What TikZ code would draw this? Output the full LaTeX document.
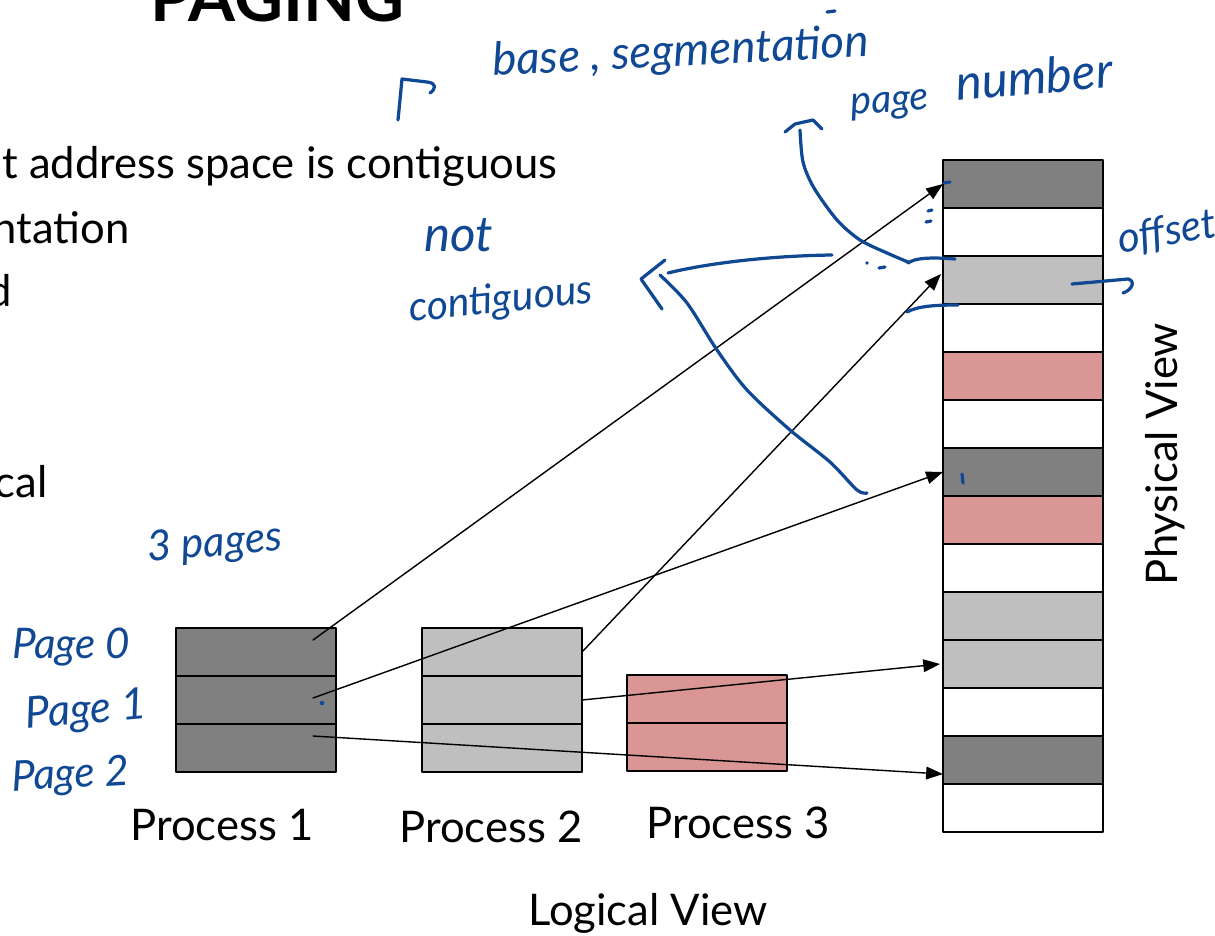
\documentclass[tikz,border=0pt]{standalone}
\usepackage{fontspec}
\setmainfont{Lato}
\usepackage{tikz}
\usetikzlibrary{arrows.meta}
\usetikzlibrary{positioning}
\definecolor{pgdark}{RGB}{128,128,128}
\definecolor{pglight}{RGB}{191,191,191}
\definecolor{pgred}{RGB}{217,150,148}
\definecolor{ink}{RGB}{16,72,148}

\begin{document}
\begin{tikzpicture}[x=0.025cm,y=-0.025cm,line cap=round,line join=round,>={Triangle[length=12pt,width=9pt]},
  blk/.style={draw=black,line width=1.3pt,minimum width=4cm,minimum height=1.2cm,inner sep=0pt,outer sep=0pt},
  txt/.style={font=\fontsize{31}{37}\selectfont,inner sep=0pt},
  hand/.style={color=ink,font=\fontsize{30}{36}\selectfont\itshape,inner sep=0pt,anchor=base west},
  ink stroke/.style={draw=ink,line width=2.3pt},
  map/.style={->,line width=1pt}]
\useasboundingbox (0,0) rectangle (1215,935);
\clip (0,0) rectangle (1215,935);
% slide text, cut at the edges
\node[txt,font=\fontsize{48}{50}\selectfont\bfseries,anchor=base west] (title) at (150,21) {PAGING};
\node[txt,anchor=base west] (line1) at (2,178) {t address space is contiguous};
\node[txt,anchor=base east] (line2) at (130,243) {ntation};
\node[txt,anchor=base east] (line3) at (12,306) {d};
\node[txt,anchor=base east] (line4) at (48,497) {cal};
% logical view
\node[blk,fill=pgdark] (p1a) at (256,652) {};
\node[blk,fill=pgdark] (p1b) at (256,700) {};
\node[blk,fill=pgdark] (p1c) at (256,748) {};
\node[blk,fill=pglight] (p2a) at (502,652) {};
\node[blk,fill=pglight] (p2b) at (502,700) {};
\node[blk,fill=pglight] (p2c) at (502,748) {};
\node[blk,fill=pgred] (p3a) at (707,699) {};
\node[blk,fill=pgred] (p3b) at (707,747) {};
\node[txt,anchor=base] (proc1) at (222,840) {Process 1};
\node[txt,anchor=base] (proc2) at (491,842) {Process 2};
\node[txt,anchor=base] (proc3) at (738,838) {Process 3};
\node[txt,anchor=base] (logical) at (648,925) {Logical View};
% physical view
\foreach \c [count=\i from 0] in {pgdark,white,pglight,white,pgred,white,pgdark,pgred,white,pglight,pglight,white,pgdark,white}
  \node[blk,fill=\c] (m\i) at (1023,{184+48*\i}) {};
\node[txt,anchor=base,rotate=90] (physical) at (1177,454) {Physical View};
% page mapping
\draw[map] ([shift={(-23,-12)}]p1a.east) -- (m0.west);
\draw[map] ([shift={(-23,-2)}]p1b.east) -- (m6.west);
\draw[map] ([shift={(-23,-12)}]p1c.east) -- ([yshift=-10]m12.west);
\draw[map] (p2a.east) -- ([shift={(-2,-6)}]m2.west);
\draw[map] (p2b.east) -- ([xshift=-2]m10.west);
% handwritten notes
\node[hand,rotate=3,font=\fontsize{32.5}{38}\selectfont\itshape] (segnote) at (493,76) {base , segmentation};
\node[hand,rotate=4,font=\fontsize{28}{34}\selectfont\itshape] (pagenote) at (851,115) {page};
\node[hand,rotate=5,font=\fontsize{35}{40}\selectfont\itshape] (numnote) at (957,101) {number};
\node[hand,font=\fontsize{35}{40}\selectfont\itshape] (notnote) at (424,251) {not};
\node[hand,rotate=6,font=\fontsize{29}{34}\selectfont\itshape] (contnote) at (410,322) {contiguous};
\node[hand,rotate=10] (offnote) at (1120,254) {offset};
\node[hand,rotate=5] (pagesnote) at (148,562) {3 pages};
\node[hand] (pg0) at (12,658) {Page 0};
\node[hand,rotate=5,font=\fontsize{31}{36}\selectfont\itshape] (pg1) at (26,729) {Page 1};
\node[hand,rotate=3] (pg2) at (12,791) {Page 2};
\draw[ink stroke] (398,120) -- (402,79) -- (427,82) .. controls (437,83) and (436,89) .. (430,93);
\draw[ink stroke] (827,12) -- (835,11);
\draw[ink stroke] plot[smooth] coordinates {(800,130) (803,162) (814,188) (837,220) (860,240) (887,253) (908,262)};
\draw[ink stroke] (785,132) -- (795,124) -- (813,120) -- (822,129);
\draw[ink stroke] (908,263) .. controls (915,258) and (930,257) .. (955,259);
\draw[ink stroke] (832,255) .. controls (760,256) and (700,265) .. (668,273);
\draw[ink stroke] (665,260) -- (641,279) -- (662,309);
\draw[ink stroke] plot[smooth] coordinates {(660,275) (687,303) (717,350) (747,390) (790,430) (830,462) (857,490) (867,493)};
\draw[ink stroke] (907,312) .. controls (918,306) and (935,305) .. (958,305);
\draw[ink stroke] (1072,284) -- (1128,279) .. controls (1136,281) and (1132,290) .. (1123,293);
\draw[ink stroke] (944,183) -- (950,182);
\draw[ink stroke] (928,211) -- (932,210);
\draw[ink stroke] (926,222) -- (931,221);
\draw[ink stroke] (879,268) -- (885,267);
\draw[ink stroke] (962,474) -- (963,483);
\fill[ink] (867,263) circle (1.3pt);
\fill[ink] (322,703) circle (1.6pt);
\end{tikzpicture}
\end{document}
